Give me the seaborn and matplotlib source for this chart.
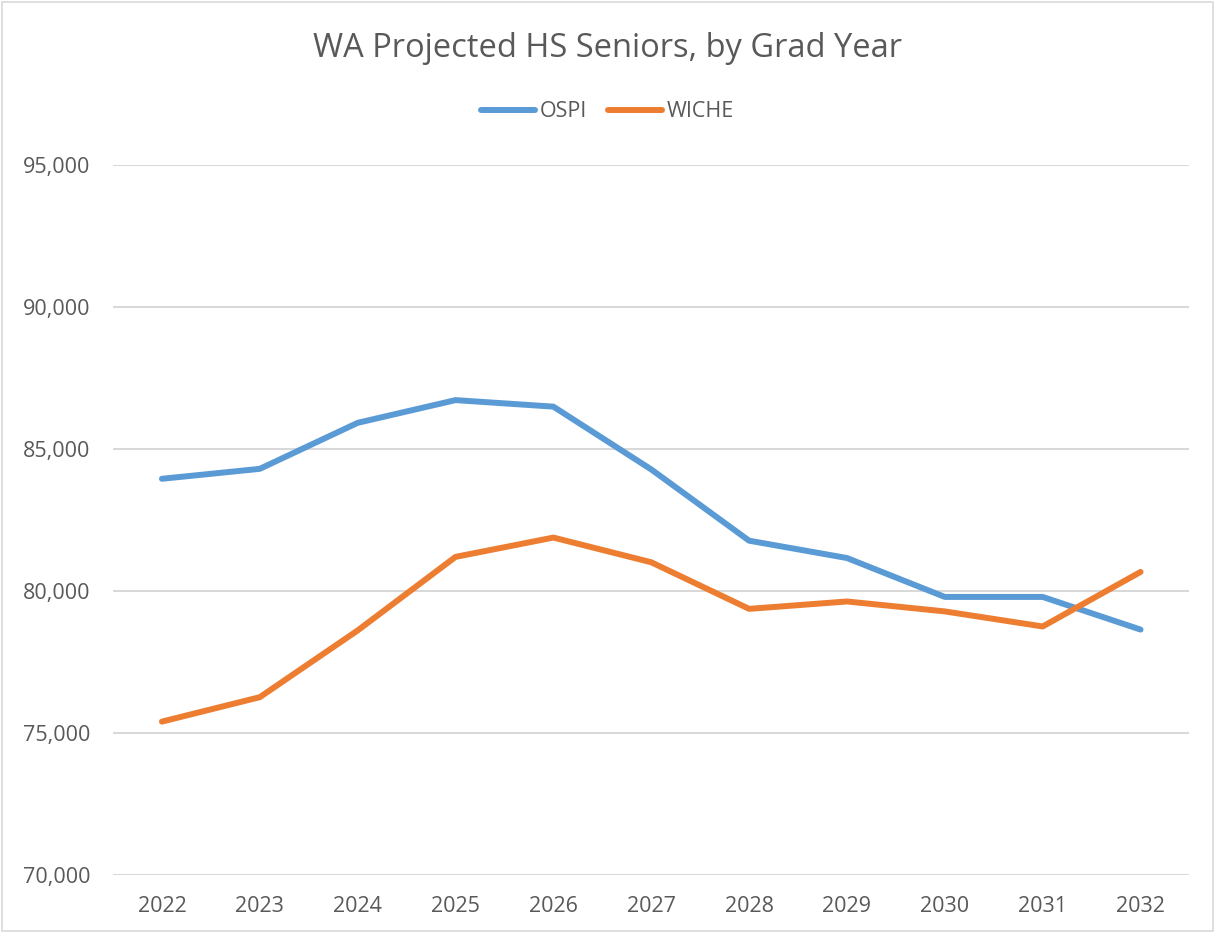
import numpy as np
import pandas as pd
import matplotlib.pyplot as plt
import seaborn as sns
from matplotlib.ticker import FuncFormatter
from matplotlib.patches import Rectangle

# values
years = [2022, 2023, 2024, 2025, 2026, 2027, 2028, 2029, 2030, 2031, 2032]
ospi = [83950, 84300, 85920, 86720, 86490, 84280, 81770, 81160, 79790, 79790, 78640]
wiche = [75400, 76260, 78610, 81200, 81880, 81010, 79370, 79630, 79280, 78750, 80670]
series_names = ["OSPI", "WICHE"]
colors = ["#5B9BD5", "#ED7D31"]

df = pd.DataFrame({
    "Year": years * 2,
    "Seniors": ospi + wiche,
    "Source": ["OSPI"] * len(years) + ["WICHE"] * len(years),
})

sns.set_style("white")
plt.rcParams["font.family"] = ["Open Sans", "DejaVu Sans"]
text_color = "#595959"

fig = plt.figure(figsize=(12.15, 9.33), dpi=100)
ax = fig.add_axes([0.093, 0.0622, 0.886, 0.761])

sns.lineplot(data=df, x="Year", y="Seniors", hue="Source", hue_order=series_names,
             palette=colors, linewidth=4.3, ax=ax, legend=True,
             solid_capstyle="round", solid_joinstyle="round")

ax.set_xlim(years[0] - 0.5, years[-1] + 0.5)
ax.set_ylim(70000, 95000)
ax.set_yticks(np.arange(70000, 95001, 5000))
ax.set_xticks(years)
ax.yaxis.set_major_formatter(FuncFormatter(lambda v, p: f"{int(v):,}"))
ax.grid(axis="y", color="#D9D9D9", linewidth=1.5)
ax.set_axisbelow(True)
for s in ax.spines.values():
    s.set_visible(False)
ax.tick_params(axis="both", length=0, labelsize=15.5, colors=text_color)
ax.tick_params(axis="y", pad=16.5)
ax.tick_params(axis="x", pad=15)
ax.set_xlabel("")
ax.set_ylabel("")

handles, labels = ax.get_legend_handles_labels()
ax.legend(handles, labels, loc="center", bbox_to_anchor=(0.5, 0.88),
          bbox_transform=fig.transFigure, ncol=2, frameon=False,
          fontsize=15.5, labelcolor=text_color, handlelength=2.5,
          columnspacing=1.0, handletextpad=0.2)

fig.text(0.5, 0.948, "WA Projected HS Seniors, by Grad Year", ha="center",
         va="center", fontsize=23.5, color=text_color)

# thin outer border like the chart area
fig.patches.append(Rectangle((0.002, 0.002), 0.996, 0.996, transform=fig.transFigure,
                             fill=False, edgecolor="#D9D9D9", linewidth=1.2))

fig.savefig("out.png", dpi=100)
